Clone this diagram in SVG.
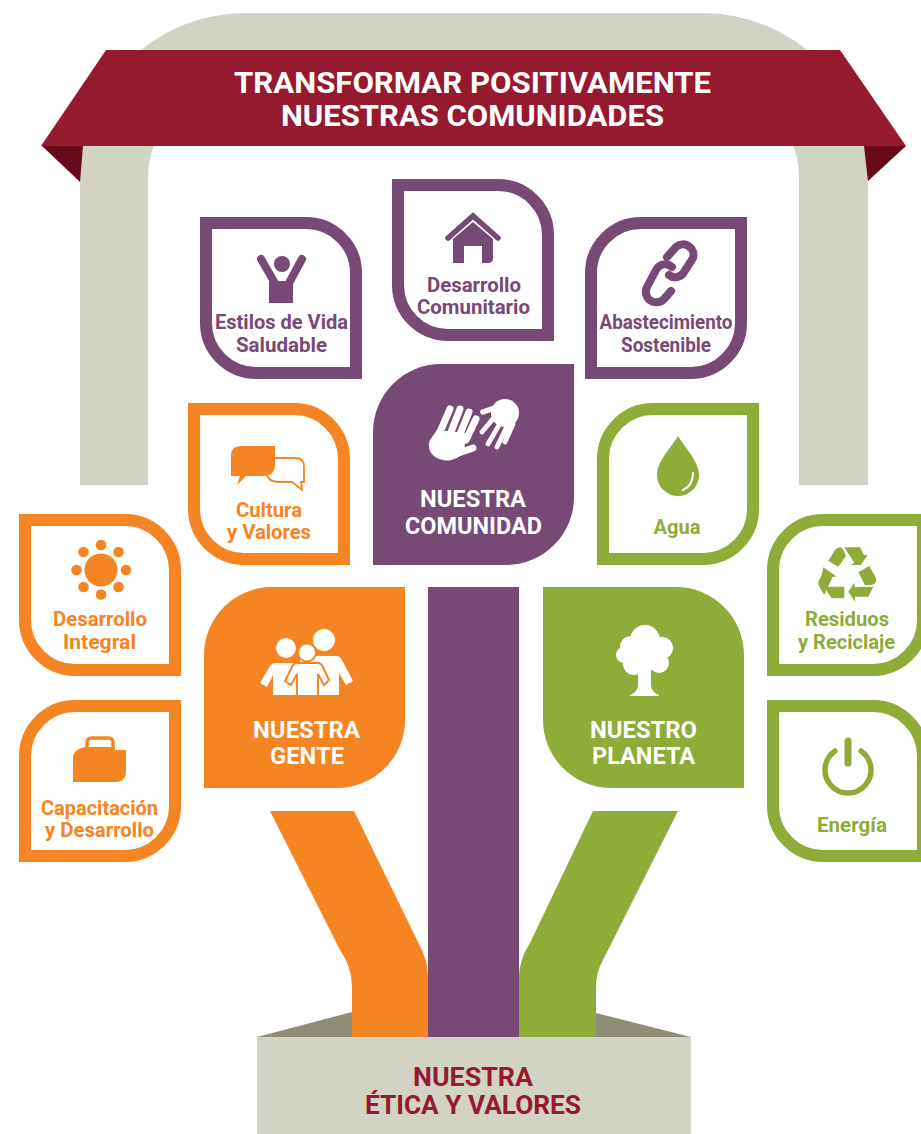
<svg xmlns="http://www.w3.org/2000/svg" xmlns:xlink="http://www.w3.org/1999/xlink" width="921" height="1134" viewBox="0 0 921 1134">
<style>
text{font-family:"Roboto","Liberation Sans",sans-serif;font-weight:700;text-anchor:middle}
.s{font-size:19.5px}.b{font-size:24px;fill:#fff}.t{font-size:29px;fill:#fff}.e{font-size:25px;fill:#951a2f}
.pu{fill:#764a75}.or{fill:#f58423}.gr{fill:#8fab38}
.lp{fill:#fff;stroke:#764a75;stroke-width:12}.lo{fill:#fff;stroke:#f58423;stroke-width:12}.lg{fill:#fff;stroke:#8fab38;stroke-width:12}
</style>
<defs>
<path id="leafA" d="M6 6H106A50 50 0 0 1 156 56V156H56A50 50 0 0 1 6 106Z"/>
<path id="leafB" d="M156 6V106A50 50 0 0 1 106 156H6V56A50 50 0 0 1 56 6Z"/>
<path id="bigA" d="M0 0H133A68 68 0 0 1 201 68V201H68A68 68 0 0 1 0 133Z"/>
<path id="bigB" d="M201 0V133A68 68 0 0 1 133 201H0V68A68 68 0 0 1 68 0Z"/>
</defs>

<g id="arch">
<path d="M80 485V178A165 165 0 0 1 245 13H703A165 165 0 0 1 868 178V485H799V178A97 97 0 0 0 702 81H245A97 97 0 0 0 148 178V485Z" fill="#d2d3c5"/>
</g>
<g id="banner">
<path d="M42 146H83L80 182Z" fill="#680a1c"/>
<path d="M864 146H906L868 181Z" fill="#680a1c"/>
<path d="M106 50H840L906 146H41Z" fill="#951a2f"/>
<text class="t" x="472.5" y="92.5" textLength="477" lengthAdjust="spacingAndGlyphs">TRANSFORMAR POSITIVAMENTE</text>
<text class="t" x="472.5" y="125.5" textLength="383" lengthAdjust="spacingAndGlyphs">NUESTRAS COMUNIDADES</text>
</g>

<g id="connectors">
<path d="M270 811H354L418 942Q428 960 428 977V1037H352V987Q352 967 340 950Z" class="or"/>
<path d="M593 811H678L603 960Q596 972 596 987V1037H519V977Q519 960 530 943Z" class="gr"/>
<rect x="428" y="587" width="91" height="450" class="pu"/>
</g>

<g id="etica">
<path d="M257 1037L352 1012V1037ZM596 1013L691 1037H596Z" fill="#8f8c78"/>
<rect x="257" y="1037" width="434" height="97" fill="#d2d3c5"/>
<text class="e" x="473" y="1086" textLength="120" lengthAdjust="spacingAndGlyphs">NUESTRA</text>
<text class="e" x="473" y="1114" textLength="216" lengthAdjust="spacingAndGlyphs">ÉTICA Y VALORES</text>
</g>

<g id="estilos">
<use xlink:href="#leafA" href="#leafA" x="200" y="217" class="lp"/>
<circle cx="282" cy="264" r="8" class="pu"/>
<path d="M269 282H293V303H269Z" class="pu"/>
<path d="M261 259L276 285H288L302 259" fill="none" stroke="#764a75" stroke-width="8" stroke-linecap="round" stroke-linejoin="round"/>
<text class="s pu" x="281.5" y="329" textLength="133" lengthAdjust="spacingAndGlyphs">Estilos de Vida</text>
<text class="s pu" x="281.5" y="352" textLength="91" lengthAdjust="spacingAndGlyphs">Saludable</text>
</g>

<g id="comunitario">
<use xlink:href="#leafA" href="#leafA" x="392" y="179" class="lp"/>
<path d="M448 238L473 216 498 238" fill="none" stroke="#764a75" stroke-width="5.5" stroke-linecap="round" stroke-linejoin="miter"/>
<path d="M453 239L473 222 493 239V258Q493 263 488 263H482V246H464V263H453Z" class="pu"/>
<text class="s pu" x="474" y="291.5" textLength="94" lengthAdjust="spacingAndGlyphs">Desarrollo</text>
<text class="s pu" x="473.5" y="314" textLength="113" lengthAdjust="spacingAndGlyphs">Comunitario</text>
</g>

<g id="abastecimiento">
<use xlink:href="#leafB" href="#leafB" x="585" y="217" class="lp"/>
<g fill="none" stroke="#764a75" stroke-width="8" stroke-linecap="round">
<path d="M667 257L676 247A10.5 10.500 0 0 1 693 258L684 272A10 10 0 0 1 669 275"/>
<path d="M671 291L664 299A10.5 10.500 0 0 1 647 287L656 270A10 10 0 0 1 672 267"/>
</g>
<text class="s pu" x="666" y="329" textLength="133" lengthAdjust="spacingAndGlyphs">Abastecimiento</text>
<text class="s pu" x="666" y="352" textLength="90" lengthAdjust="spacingAndGlyphs">Sostenible</text>
</g>

<g id="comunidad">
<use xlink:href="#bigB" href="#bigB" x="373" y="364" class="pu"/>
<g fill="#fff">
<path d="M437 430L466 433 464 452C458 459 449 462 443 460C433 458 426 450 430 440Z"/>
<circle cx="505" cy="413" r="14"/>
</g>
<g fill="none" stroke="#fff" stroke-linecap="round">
<path d="M450 409L440 432M460 409L451 432M469 412L460 434M476 419L466 440" stroke-width="7"/>
<path d="M450 456L473 448" stroke-width="7"/>
<path d="M482 432L497 414M488 444L502 420M497 447L508 424M505 442L513 424" stroke-width="4.8"/>
<path d="M483 412L500 406" stroke-width="5.500"/>
</g>
<text class="b" x="473" y="507" textLength="106" lengthAdjust="spacingAndGlyphs">NUESTRA</text>
<text class="b" x="473.500" y="534" textLength="137" lengthAdjust="spacingAndGlyphs">COMUNIDAD</text>
</g>

<g id="cultura">
<use xlink:href="#leafA" href="#leafA" x="188" y="403" class="lo"/>
<path d="M275 458H295Q304 458 304 467V482H301L302 490 292 482H279Q268 482 266 473" fill="#fff" stroke="#f58423" stroke-width="1.800"/>
<path d="M241 446H275V464Q275 476 263 476H246L237 485 240 476H231V456Q231 446 241 446Z" class="or"/>
<text class="s or" x="269" y="517" textLength="66" lengthAdjust="spacingAndGlyphs">Cultura</text>
<text class="s or" x="269" y="539" textLength="84" lengthAdjust="spacingAndGlyphs">y Valores</text>
</g>

<g id="agua">
<use xlink:href="#leafB" href="#leafB" x="597" y="403" class="lg"/>
<path d="M678 436C685 448 699 461 699 475A21 21 0 0 1 657 475C657 461 671 448 678 436Z" class="gr"/>
<path d="M693 473C693 481 690 487 683 490" fill="none" stroke="#fff" stroke-width="2.200" stroke-linecap="round"/>
<text class="s gr" x="677" y="533.500" textLength="47" lengthAdjust="spacingAndGlyphs">Agua</text>
</g>

<g id="integral">
<use xlink:href="#leafA" href="#leafA" x="19" y="514" class="lo"/>
<g class="or">
<circle cx="101" cy="570" r="16.500"/>
<circle cx="101" cy="545" r="5.300"/><circle cx="101" cy="594.500" r="5.300"/>
<circle cx="76.500" cy="570" r="5.300"/><circle cx="126" cy="570" r="5.300"/>
<circle cx="83.500" cy="552" r="5.300"/><circle cx="118.500" cy="552" r="5.300"/>
<circle cx="83.500" cy="587" r="5.300"/><circle cx="118.500" cy="587" r="5.300"/>
</g>
<text class="s or" x="100" y="626" textLength="94" lengthAdjust="spacingAndGlyphs">Desarrollo</text>
<text class="s or" x="99.500" y="649" textLength="73" lengthAdjust="spacingAndGlyphs">Integral</text>
</g>

<g id="capacitacion">
<use xlink:href="#leafB" href="#leafB" x="19" y="700" class="lo"/>
<path d="M87 750V743Q87 738 92 738H108Q113 738 113 743V750" fill="none" stroke="#f58423" stroke-width="3.500"/>
<path d="M86 747H115V750H126V771Q126 782 115 782H73V758Q73 749 86 747Z" class="or"/>
<text class="s or" x="99.500" y="815" textLength="117" lengthAdjust="spacingAndGlyphs">Capacitación</text>
<text class="s or" x="99.500" y="837" textLength="109" lengthAdjust="spacingAndGlyphs">y Desarrollo</text>
</g>

<g id="gente">
<use xlink:href="#bigB" href="#bigB" x="204" y="587" class="or"/>
<g fill="#fff">
<circle cx="324" cy="640" r="11"/>
<circle cx="286" cy="648" r="10"/>
<path d="M316 656H336Q340 656 342 660L353 681 346 685 339 673V695H300V660Z"/>
<path d="M275 663H300V695H273V675L267 687 260 683 270 666Q272 663 275 663Z"/>
<circle cx="307" cy="652.500" r="9" stroke="#f58423" stroke-width="2"/>
<path d="M296 663H318Q321 663 323 667L329 680 324 685 318 674V696H297V674L291 685 285 681 292 667Q294 663 296 663Z" stroke="#f58423" stroke-width="2"/>
</g>
<text class="b" x="306.500" y="737.500" textLength="107" lengthAdjust="spacingAndGlyphs">NUESTRA</text>
<text class="b" x="307" y="763.500" textLength="74" lengthAdjust="spacingAndGlyphs">GENTE</text>
</g>

<g id="planeta">
<use xlink:href="#bigA" href="#bigA" x="543" y="587" class="gr"/>
<g fill="#fff">
<circle cx="645" cy="640" r="15"/><circle cx="631" cy="647" r="11"/><circle cx="662" cy="648" r="11"/>
<circle cx="624" cy="655" r="8"/><circle cx="634" cy="664" r="11"/><circle cx="659" cy="663" r="10"/><circle cx="646" cy="655" r="16"/>
<path d="M638 668H651V685Q651 692 659 695V696H630V695Q638 692 638 685Z"/>
</g>
<text class="b" x="643.500" y="737.500" textLength="107" lengthAdjust="spacingAndGlyphs">NUESTRO</text>
<text class="b" x="643.500" y="763.500" textLength="103" lengthAdjust="spacingAndGlyphs">PLANETA</text>
</g>

<g id="residuos">
<use xlink:href="#leafB" href="#leafB" x="767" y="514" class="lg"/>
<path class="gr" d="M828.300 560.700L835 550Q837 547.300 840 547.300Q842 547.300 843 549.500L846 556 838.300 566.700Z"/>
<path class="gr" d="M844.300 547.300H860L864 555 867.700 555 860.700 565H850.700L854.300 562.700Z"/>
<path class="gr" d="M858.300 572.300L869.300 566 875 576Q877.500 581 875 583Q873.500 585 871 585H865Z"/>
<path class="gr" d="M873.300 586.700L868.300 596.700H855V601.700L848.300 591.700 854.300 582.700 855 587.300Z"/>
<path class="gr" d="M826.700 586.700H844.300V598.300H834Q831 598.300 829.500 595.500L826 589.300Z"/>
<path class="gr" d="M818.300 581.700L821.700 575 823.300 567.300 836.700 576.700H832.700L824.300 595 819.500 587Q817.500 584 818.300 581.700Z"/>
<text class="s gr" x="847" y="626" textLength="84" lengthAdjust="spacingAndGlyphs">Residuos</text>
<text class="s gr" x="846.500" y="649" textLength="97" lengthAdjust="spacingAndGlyphs">y Reciclaje</text>
</g>

<g id="energia">
<use xlink:href="#leafA" href="#leafA" x="767" y="700" class="lg"/>
<path d="M835 751A23 23 0 1 0 861 751" fill="none" stroke="#8fab38" stroke-width="5.500" stroke-linecap="round"/>
<path d="M848 741V763" fill="none" stroke="#8fab38" stroke-width="7" stroke-linecap="round"/>
<text class="s gr" x="852" y="832" textLength="70" lengthAdjust="spacingAndGlyphs">Energía</text>
</g>
</svg>
